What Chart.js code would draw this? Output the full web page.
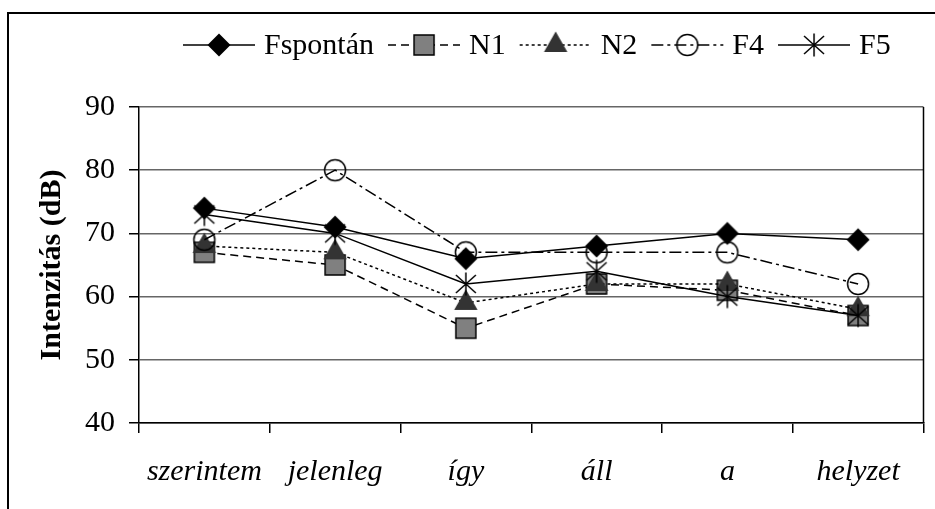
<!DOCTYPE html>
<html>
<head>
<meta charset="utf-8">
<script src="https://cdn.jsdelivr.net/npm/chart.js@4.4.0/dist/chart.umd.min.js"></script>
<style>
  html, body { margin: 0; padding: 0; background: #fff; }
  #wrap { width: 935px; height: 509px; }
</style>
</head>
<body>
<div id="wrap"><canvas id="chart" width="935" height="509"></canvas></div>
<script>
// Data
const categories = ["szerintem", "jelenleg", "így", "áll", "a", "helyzet"];
const fspontan = [74, 71, 66, 68, 70, 69];
const n1 = [67, 65, 55, 62, 61, 57];
const n2 = [68, 67, 59, 62, 62, 58];
const f4 = [69, 80, 67, 67, 67, 62];
const f5 = [73, 70, 62, 64, 60, 57];
const yMin = 40, yMax = 90, yStep = 10;

const FONT = "'Liberation Serif', 'Times New Roman', serif";

// Excel-like markers drawn once into small canvases
function makeMarker(kind) {
  const c = document.createElement("canvas");
  c.width = 30; c.height = 30;
  const g = c.getContext("2d");
  g.translate(15, 15);
  g.lineWidth = 1.5;
  g.strokeStyle = "#000";
  g.beginPath();
  if (kind === "diamond") {
    g.moveTo(0, -11.5); g.lineTo(11.5, 0); g.lineTo(0, 11.5); g.lineTo(-11.5, 0); g.closePath();
    g.fillStyle = "#000"; g.fill();
  } else if (kind === "square") {
    g.rect(-10, -10, 20, 20);
    g.fillStyle = "#808080"; g.fill(); g.stroke();
  } else if (kind === "triangle") {
    g.moveTo(0, -13.5); g.lineTo(11.7, 7); g.lineTo(-11.7, 7); g.closePath();
    g.fillStyle = "#333"; g.fill();
  } else if (kind === "circle") {
    g.arc(0, 0, 10.5, 0, Math.PI * 2);
    g.stroke();
  } else if (kind === "star") {
    g.moveTo(0, -11.5); g.lineTo(0, 11.5);
    g.moveTo(-10, -9); g.lineTo(10, 9);
    g.moveTo(10, -9); g.lineTo(-10, 9);
    g.stroke();
  }
  return c;
}

const series = [
  { label: "Fspontán", data: fspontan, marker: makeMarker("diamond"), dash: [] },
  { label: "N1", data: n1, marker: makeMarker("square"), dash: [8, 5] },
  { label: "N2", data: n2, marker: makeMarker("triangle"), dash: [3, 3] },
  { label: "F4", data: f4, marker: makeMarker("circle"), dash: [12, 4, 3, 4] },
  { label: "F5", data: f5, marker: makeMarker("star"), dash: [] },
];

// Frame around the whole picture
const framePlugin = {
  id: "frame",
  beforeDraw(chart) {
    const c = chart.ctx;
    c.save();
    c.fillStyle = "#fff";
    c.fillRect(0, 0, chart.width, chart.height);
    c.strokeStyle = "#000";
    c.lineWidth = 2;
    c.beginPath();
    c.moveTo(8, chart.height);
    c.lineTo(8, 13);
    c.lineTo(chart.width, 13);
    c.stroke();
    c.restore();
  },
  afterDatasetsDraw(chart) {
    // right edge of the plot area
    const a = chart.chartArea;
    const c = chart.ctx;
    c.save();
    c.strokeStyle = "#000";
    c.lineWidth = 1.5;
    c.beginPath();
    c.moveTo(a.right, a.top);
    c.lineTo(a.right, a.bottom);
    c.stroke();
    c.restore();
  },
};

// Legend in one row: line sample with marker, then label
const legendPlugin = {
  id: "rowLegend",
  afterDraw(chart) {
    const c = chart.ctx;
    const y = 45;
    let x = 183;
    c.save();
    c.font = "30px " + FONT;
    c.textBaseline = "middle";
    c.fillStyle = "#000";
    series.forEach((s) => {
      c.strokeStyle = "#000";
      c.lineWidth = 1.5;
      c.setLineDash(s.dash);
      c.beginPath();
      c.moveTo(x, y);
      c.lineTo(x + 72, y);
      c.stroke();
      c.setLineDash([]);
      c.drawImage(s.marker, x + 36 - 15, y - 15);
      c.fillText(s.label, x + 81, y + 1);
      x += 81 + c.measureText(s.label).width + 14;
    });
    c.restore();
  },
};

const ctx = document.getElementById("chart").getContext("2d");
const chart = new Chart(ctx, {
  type: "line",
  data: {
    labels: categories,
    datasets: series.map((s, i) => ({
      label: s.label,
      data: s.data,
      borderColor: "#000",
      borderWidth: 1.5,
      borderDash: s.dash,
      tension: 0,
      fill: false,
      pointStyle: s.marker,
      pointRadius: 10,
      order: series.length - i,
    })),
  },
  options: {
    responsive: false,
    animation: false,
    layout: { padding: { top: 107, right: 3, left: 0, bottom: 0 } },
    plugins: {
      legend: { display: false },
      tooltip: { enabled: false },
    },
    scales: {
      x: {
        offset: true,
        grid: {
          offset: true,
          drawOnChartArea: false,
          drawTicks: true,
          tickLength: 10,
          color: "#000",
          lineWidth: 1.5,
        },
        border: { display: true, color: "#000", width: 1.5 },
        ticks: {
          color: "#000",
          padding: 21,
          maxRotation: 0,
          autoSkip: false,
          font: { family: FONT, size: 30, style: "italic" },
        },
        afterFit(scale) { scale.height = 86; },
      },
      y: {
        min: yMin,
        max: yMax,
        ticks: {
          stepSize: yStep,
          color: "#000",
          padding: 14,
          font: { family: FONT, size: 30 },
        },
        grid: {
          color: "#666",
          lineWidth: 1.5,
          tickLength: 10,
          tickColor: "#000",
        },
        border: { display: true, color: "#000", width: 1.5 },
        title: {
          display: true,
          text: "Intenzitás (dB)",
          color: "#000",
          padding: { top: 34, bottom: 0 },
          font: { family: FONT, size: 30, weight: "bold" },
        },
        afterFit(scale) { scale.width = 139; },
      },
    },
  },
  plugins: [framePlugin, legendPlugin],
});
</script>
</body>
</html>
